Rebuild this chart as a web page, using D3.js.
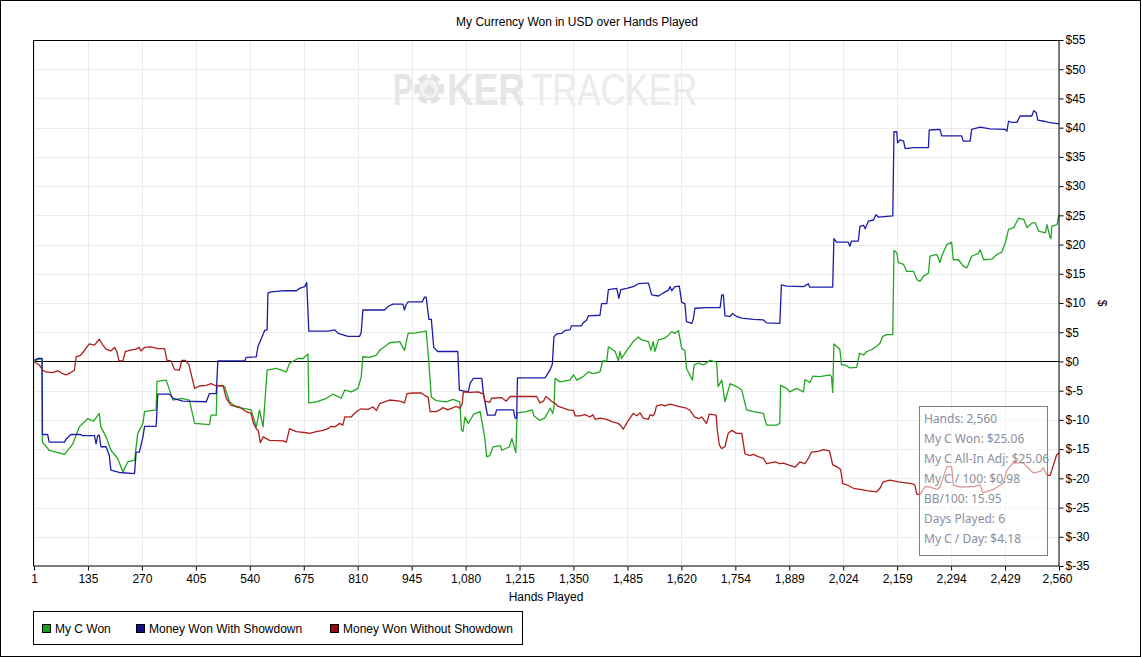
<!DOCTYPE html>
<html>
<head>
<meta charset="utf-8">
<script src="https://cdn.jsdelivr.net/npm/d3@7"></script>
<style>
  html, body { margin: 0; padding: 0; background: #fff; }
  svg { display: block; }
  text { font-family: "Liberation Sans", Arial, sans-serif; }
</style>
</head>
<body>
<script>
// ---------------- DATA ----------------
const chartTitle = "My Currency Won in USD over Hands Played";
const xAxisTitle = "Hands Played";
const yAxisTitle = "$";
const seriesNames = ["My C Won", "Money Won With Showdown", "Money Won Without Showdown"];
const xTickLabels = ["1","135","270","405","540","675","810","945","1,080","1,215","1,350","1,485","1,620","1,754","1,889","2,024","2,159","2,294","2,429","2,560"];
const yTickValues = [-35,-30,-25,-20,-15,-10,-5,0,5,10,15,20,25,30,35,40,45,50,55];
const infoLines = ["Hands: 2,560","My C Won: $25.06","My C All-In Adj: $25.06","My C / 100: $0.98","BB/100: 15.95","Days Played: 6","My C / Day: $4.18"];

// [hand, dollars]
const myCWon = [
[1,0],[10,0.3],[18,0.5],[21,0.4],[22,-13.8],[39,-15.2],[56,-15.5],[77,-15.9],[98,-14.1],[114,-11.2],[135,-9.8],[150,-10.2],[164,-8.9],[168,-11.2],[181,-12.9],[193,-15.2],[210,-16.6],[223,-18.9],[235,-17.2],[252,-16.9],[260,-12.3],[273,-10.6],[277,-8.6],[306,-8.3],[308,-3.4],[331,-3.2],[348,-6.6],[368,-6.3],[389,-6.6],[402,-10.6],[439,-10.8],[443,-9.2],[456,-9.2],[458,-4.1],[477,-4.3],[489,-6.9],[506,-7.8],[531,-8.1],[543,-8.3],[556,-11.2],[564,-8.3],[573,-11.2],[583,-1.5],[606,-1.2],[631,-1.8],[639,-0.3],[660,0.5],[673,0.5],[685,1.3],[687,-7.1],[706,-6.9],[731,-6.3],[747,-5.6],[768,-6.3],[777,-4.9],[793,-5.2],[810,-4.6],[818,-2.6],[822,0.8],[839,0.7],[856,1.1],[864,1.9],[876,2.5],[889,3.2],[914,3.4],[926,1.9],[935,4.8],[955,4.9],[980,5.2],[985,1.4],[993,-6.1],[1005,-6.7],[1030,-6.9],[1047,-6.5],[1064,-6.9],[1068,-11.7],[1072,-12.0],[1077,-9.5],[1085,-10.6],[1092,-9.8],[1099,-9.0],[1115,-8.6],[1123,-11.7],[1127,-13.4],[1131,-16.3],[1139,-16.1],[1147,-14.6],[1165,-14.4],[1169,-15.2],[1188,-14.6],[1194,-13.2],[1204,-15.6],[1207,-8.8],[1230,-8.6],[1245,-8.3],[1249,-9.3],[1260,-9.9],[1263,-10.1],[1276,-9.7],[1285,-8.6],[1290,-8.0],[1296,-8.9],[1299,-8.0],[1302,-2.9],[1314,-3.5],[1339,-3.2],[1348,-2.3],[1356,-3.2],[1372,-2.6],[1385,-1.8],[1397,-2.1],[1414,-1.8],[1421,0.1],[1431,0.1],[1435,2.5],[1452,1.7],[1460,0.1],[1464,1.7],[1468,0.5],[1481,1.9],[1497,3.4],[1510,4.2],[1518,3.7],[1535,3.4],[1541,1.9],[1547,3.4],[1551,1.7],[1560,3.7],[1576,4.0],[1585,4.5],[1593,5.1],[1601,4.8],[1610,5.3],[1618,2.2],[1626,1.9],[1630,-1.2],[1645,-3.2],[1649,-0.6],[1660,-0.3],[1672,-0.6],[1689,0.2],[1705,-0.1],[1709,-4.3],[1718,-3.2],[1726,-6.9],[1739,-3.8],[1755,-4.3],[1768,-4.9],[1780,-8.3],[1797,-8.6],[1822,-8.9],[1830,-10.9],[1855,-10.9],[1863,-10.6],[1865,-4.1],[1880,-4.6],[1888,-5.2],[1905,-4.6],[1922,-5.2],[1926,-3.1],[1938,-3.6],[1946,-2.5],[1963,-2.6],[1988,-2.3],[1992,-2.6],[1995,-5.3],[1998,3.0],[2005,2.6],[2013,2.0],[2017,-0.6],[2026,-0.6],[2038,-1.1],[2055,-1.0],[2062,1.4],[2072,1.1],[2080,1.7],[2092,2.0],[2105,2.6],[2113,3.1],[2120,4.3],[2130,4.6],[2145,4.6],[2148,19.0],[2155,18.6],[2159,16.9],[2172,16.6],[2180,15.4],[2197,15.4],[2205,14.0],[2213,13.7],[2222,14.6],[2234,15.1],[2238,18.0],[2255,18.3],[2263,16.9],[2267,18.0],[2280,20.0],[2292,20.4],[2296,17.4],[2309,17.4],[2321,16.3],[2330,16.0],[2342,18.0],[2359,18.5],[2363,19.1],[2372,17.4],[2392,17.5],[2405,18.3],[2417,18.7],[2426,20.3],[2434,22.6],[2447,22.9],[2459,24.5],[2472,24.3],[2480,22.9],[2493,23.7],[2501,23.7],[2509,22.3],[2526,22.0],[2530,23.4],[2537,21.4],[2540,21.0],[2542,23.1],[2555,23.4],[2560,25.1]
];

const wonWithShowdown = [
[1,0.2],[10,0.5],[21,0.5],[22,-12.5],[35,-12.5],[39,-13.8],[77,-13.8],[81,-13.3],[93,-12.5],[118,-12.5],[122,-12.7],[152,-12.7],[156,-14.1],[160,-12.7],[164,-12.6],[168,-14.6],[181,-14.6],[189,-16.1],[193,-18.6],[214,-19.0],[252,-19.2],[256,-15.5],[264,-15.5],[273,-12.9],[277,-11.1],[306,-11.1],[310,-5.6],[339,-5.6],[348,-6.3],[373,-6.8],[431,-6.9],[439,-5.5],[456,-5.5],[460,0.1],[527,0.1],[531,0.7],[556,0.8],[560,2.5],[577,5.3],[583,5.4],[585,11.7],[593,11.9],[627,12.1],[656,12.1],[664,12.5],[677,12.8],[682,13.5],[687,5.2],[735,5.2],[752,5.4],[760,4.8],[785,4.3],[814,4.3],[818,5.0],[822,8.8],[876,8.8],[885,9.4],[897,9.8],[922,9.8],[926,8.8],[930,9.7],[935,10.2],[970,10.2],[976,11.0],[980,11.0],[987,7.2],[993,7.2],[999,2.4],[1009,1.7],[1059,1.7],[1063,-4.9],[1085,-5.2],[1090,-3.7],[1098,-2.9],[1119,-2.9],[1123,-5.5],[1133,-9.2],[1152,-9.2],[1156,-8.3],[1198,-8.3],[1202,-9.7],[1206,-9.7],[1208,-2.8],[1277,-2.8],[1289,-1.5],[1295,-0.5],[1299,4.2],[1306,4.7],[1318,4.8],[1327,5.3],[1339,5.4],[1343,6.1],[1368,6.1],[1372,6.6],[1381,7.1],[1385,7.8],[1414,7.9],[1418,9.9],[1431,9.9],[1435,12.3],[1456,12.5],[1461,10.8],[1466,12.3],[1481,12.5],[1497,12.8],[1510,13.3],[1531,13.4],[1535,13.4],[1543,11.4],[1560,11.2],[1572,11.7],[1585,12.2],[1589,12.8],[1593,12.1],[1601,12.8],[1612,12.9],[1618,10.1],[1626,9.9],[1630,6.8],[1643,6.5],[1647,7.2],[1651,9.1],[1680,9.2],[1714,9.2],[1718,11.4],[1722,11.4],[1726,7.8],[1739,7.7],[1745,8.2],[1755,7.7],[1768,7.4],[1797,7.2],[1822,7.1],[1830,6.6],[1863,6.5],[1867,13.1],[1880,12.9],[1922,12.8],[1930,13.1],[1934,13.3],[1938,12.7],[1995,12.7],[1998,21.0],[2005,20.4],[2034,20.4],[2038,19.7],[2042,20.6],[2059,20.6],[2063,23.1],[2072,23.3],[2076,22.7],[2084,24.0],[2097,24.2],[2103,25.1],[2109,24.7],[2145,24.9],[2148,39.3],[2155,39.3],[2157,37.4],[2163,37.9],[2172,37.7],[2176,36.4],[2197,36.6],[2234,36.6],[2236,39.6],[2263,39.7],[2267,38.6],[2317,38.6],[2321,37.7],[2338,37.7],[2342,39.7],[2363,40.1],[2388,39.8],[2426,39.7],[2430,39.4],[2434,41.1],[2442,40.9],[2455,40.9],[2463,42.0],[2492,42.0],[2497,42.9],[2503,42.6],[2507,41.3],[2522,41.1],[2534,40.9],[2555,40.7],[2560,40.7]
];

const wonWithoutShowdown = [
[1,0],[14,-0.6],[23,-1.5],[31,-1.8],[48,-1.9],[60,-1.6],[73,-2.1],[81,-2.3],[93,-1.9],[102,-1.5],[106,0.8],[118,1.1],[127,1.9],[139,3.0],[152,2.8],[164,3.8],[173,2.8],[181,2.1],[193,1.8],[202,2.4],[208,1.7],[213,0.1],[223,0.1],[229,1.7],[239,1.9],[256,2.1],[264,2.4],[268,1.8],[277,2.4],[293,2.5],[310,2.2],[327,2.2],[333,0.2],[343,0.1],[352,-1.4],[364,-1.5],[370,0.2],[379,0.2],[388,-0.6],[402,-4.6],[414,-4.2],[431,-4.1],[443,-3.8],[456,-4.2],[473,-4.1],[481,-6.3],[493,-7.5],[514,-7.8],[531,-8.6],[543,-8.9],[549,-10.6],[556,-11.5],[561,-11.8],[566,-13.9],[573,-12.9],[589,-13.5],[623,-13.6],[631,-13.8],[639,-11.5],[648,-11.8],[656,-12.0],[681,-12.2],[689,-12.3],[706,-12.0],[722,-11.8],[735,-11.5],[743,-11.1],[752,-11.2],[764,-10.6],[772,-10.9],[777,-9.5],[793,-9.5],[801,-8.9],[810,-8.4],[818,-8.1],[835,-8.2],[847,-7.8],[856,-8.4],[864,-7.2],[876,-6.9],[889,-6.6],[914,-6.8],[926,-7.1],[932,-5.5],[947,-5.4],[968,-5.4],[976,-5.8],[985,-6.1],[990,-8.6],[1005,-8.6],[1014,-8.3],[1022,-7.9],[1034,-8.3],[1055,-7.7],[1064,-8.0],[1070,-7.3],[1073,-5.2],[1090,-5.3],[1110,-5.2],[1123,-5.6],[1127,-6.8],[1139,-7.0],[1143,-6.3],[1169,-6.2],[1180,-6.8],[1190,-6.0],[1210,-6.0],[1256,-6.0],[1264,-7.1],[1273,-6.8],[1279,-6.0],[1285,-6.3],[1293,-6.8],[1302,-7.2],[1310,-7.7],[1323,-8.0],[1335,-8.3],[1348,-8.4],[1352,-9.3],[1364,-9.3],[1377,-9.1],[1389,-9.5],[1396,-9.1],[1402,-9.9],[1414,-9.7],[1431,-9.9],[1443,-10.3],[1456,-10.5],[1464,-10.8],[1472,-11.6],[1481,-10.5],[1489,-9.7],[1497,-8.9],[1506,-9.3],[1514,-8.8],[1522,-9.7],[1535,-9.9],[1539,-9.1],[1547,-9.3],[1551,-8.8],[1555,-7.6],[1568,-7.4],[1576,-7.6],[1589,-7.3],[1605,-7.6],[1618,-7.8],[1630,-8.0],[1639,-8.4],[1650,-9.5],[1660,-9.8],[1668,-9.5],[1680,-10.6],[1687,-9.0],[1704,-9.2],[1707,-11.8],[1712,-14.3],[1718,-14.9],[1726,-14.6],[1734,-12.3],[1743,-11.8],[1755,-12.3],[1768,-12.3],[1776,-15.8],[1789,-16.1],[1797,-15.9],[1809,-16.3],[1822,-16.6],[1830,-17.5],[1851,-17.2],[1863,-17.5],[1872,-17.4],[1888,-17.8],[1901,-18.1],[1913,-17.2],[1926,-17.5],[1934,-16.6],[1942,-15.5],[1959,-15.4],[1972,-15.1],[1987,-15.3],[1995,-17.7],[2005,-18.0],[2015,-18.5],[2020,-20.9],[2030,-21.1],[2047,-21.7],[2063,-21.9],[2080,-22.1],[2105,-22.3],[2113,-21.7],[2121,-20.6],[2138,-20.3],[2159,-20.6],[2192,-20.9],[2200,-21.1],[2205,-22.7],[2213,-22.8],[2226,-21.4],[2238,-21.5],[2255,-21.9],[2263,-21.5],[2280,-18.0],[2292,-18.0],[2296,-21.1],[2313,-21.5],[2346,-21.4],[2363,-21.1],[2370,-22.5],[2396,-21.9],[2421,-20.8],[2430,-18.6],[2446,-17.3],[2471,-17.4],[2496,-19.1],[2513,-18.8],[2521,-18.2],[2530,-19.5],[2538,-19.5],[2554,-16.0],[2560,-15.6]
];

const seriesColors = ["#22a722", "#1c1caa", "#b01d1d"];
const legendColors = ["#18a018", "#10108f", "#9a0c0c"];

// ---------------- CHART ----------------
const W = 1142, H = 657;
const svg = d3.select("body").append("svg").attr("width", W).attr("height", H);

const x = d3.scaleLinear().domain([1, 2560]).range([34, 1059]);
const y = d3.scaleLinear().domain([-35, 55]).range([566, 40]);
const xTickValues = xTickLabels.map((_, i) => 1 + i * (2560 - 1) / (xTickLabels.length - 1));

// outer border
svg.append("rect").attr("x", 0.5).attr("y", 0.5).attr("width", W - 2).attr("height", H - 1)
  .attr("fill", "#fff").attr("stroke", "#000");

// title
svg.append("text").attr("x", 577).attr("y", 26).attr("text-anchor", "middle")
  .attr("font-size", 12).attr("fill", "#000").text(chartTitle);

// gridlines
const grid = svg.append("g");
grid.selectAll("line.vx").data(xTickValues).join("line")
  .attr("x1", d => Math.round(x(d)) + 0.5).attr("x2", d => Math.round(x(d)) + 0.5)
  .attr("y1", y(55)).attr("y2", y(-35)).attr("stroke", "#ebebeb");
grid.selectAll("line.hy").data(yTickValues).join("line")
  .attr("y1", d => Math.round(y(d)) + 0.5).attr("y2", d => Math.round(y(d)) + 0.5)
  .attr("x1", x(1)).attr("x2", x(2560)).attr("stroke", "#ebebeb");

// watermark
const wm = svg.append("g").attr("fill", "#e6e6e6");
wm.append("text").attr("x", 393).attr("y", 105).attr("font-size", 44).attr("font-weight", "bold")
  .attr("textLength", 20).attr("lengthAdjust", "spacingAndGlyphs").text("P");
wm.append("circle").attr("cx", 429).attr("cy", 89).attr("r", 15).attr("fill", "#e3e3e3");
[0, 60, 120, 180, 240, 300].forEach(a => {
  wm.append("rect").attr("x", 427).attr("y", 73).attr("width", 4).attr("height", 5)
    .attr("fill", "#fff").attr("transform", `rotate(${a},429,89)`);
});
wm.append("circle").attr("cx", 429).attr("cy", 89).attr("r", 9.5).attr("fill", "#f2f2f2");
wm.append("text").attr("x", 429).attr("y", 95.5).attr("text-anchor", "middle").attr("font-size", 17)
  .attr("fill", "#e0e0e0").style("font-family", "DejaVu Sans").text("\u2660");
wm.append("text").attr("x", 447).attr("y", 105).attr("font-size", 44).attr("font-weight", "bold")
  .attr("textLength", 78).attr("lengthAdjust", "spacingAndGlyphs").text("KER");
wm.append("text").attr("x", 531).attr("y", 105).attr("font-size", 44).attr("fill", "#ebebeb")
  .attr("textLength", 166).attr("lengthAdjust", "spacingAndGlyphs").text("TRACKER");

// zero line
svg.append("line").attr("x1", x(1)).attr("x2", x(2560))
  .attr("y1", Math.round(y(0)) + 0.5).attr("y2", Math.round(y(0)) + 0.5)
  .attr("stroke", "#000").attr("stroke-width", 1);

// series
const line = d3.line().x(d => x(d[0])).y(d => y(d[1]));
const allSeries = [myCWon, wonWithShowdown, wonWithoutShowdown];
const plotG = svg.append("g");
allSeries.forEach((s, i) => {
  plotG.append("path").datum(s).attr("d", line).attr("fill", "none")
    .attr("stroke", seriesColors[i]).attr("stroke-width", 1.3).attr("stroke-linejoin", "round");
});

// plot frame
svg.append("rect").attr("x", 33.5).attr("y", 40.5).attr("width", 1059 - 33.5).attr("height", 566 - 40.5)
  .attr("fill", "none").attr("stroke", "#000");

// axes
const xAxis = d3.axisBottom(x).tickValues(xTickValues).tickFormat((d, i) => xTickLabels[i])
  .tickSize(4).tickPadding(4);
const gx = svg.append("g").attr("transform", "translate(0,566.5)").call(xAxis);
gx.select(".domain").remove();
gx.selectAll("text").attr("font-size", 12).attr("fill", "#000").style("font-family", "Liberation Sans, Arial, sans-serif");
gx.selectAll("line").attr("stroke", "#000");
gx.selectAll(".tick text").filter((d, i) => i === xTickLabels.length - 1).attr("dx", "-2");

const yAxis = d3.axisRight(y).tickValues(yTickValues).tickFormat(d => "$" + d).tickSize(4).tickPadding(2);
const gy = svg.append("g").attr("transform", "translate(1059.5,0)").call(yAxis);
gy.select(".domain").remove();
gy.selectAll("text").attr("font-size", 12).attr("fill", "#000").style("font-family", "Liberation Sans, Arial, sans-serif");
gy.selectAll("line").attr("stroke", "#000");

// axis titles
svg.append("text").attr("x", 546).attr("y", 601).attr("text-anchor", "middle")
  .attr("font-size", 12).text(xAxisTitle);
svg.append("text").attr("transform", "translate(1098,303) rotate(90)").attr("text-anchor", "middle")
  .attr("font-size", 12).text(yAxisTitle);

// info box
const ib = svg.append("g");
ib.append("rect").attr("x", 919.5).attr("y", 406.5).attr("width", 128).attr("height", 149)
  .attr("fill", "#fff").attr("fill-opacity", 0.55).attr("stroke", "#808080");
ib.selectAll("text").data(infoLines).join("text")
  .attr("x", 924).attr("y", (d, i) => 422.5 + i * 20)
  .attr("font-size", 12).attr("fill", "#8a8e9e").style("font-family", "Noto Sans, Open Sans, sans-serif")
  .text(d => d);

// legend
const lg = svg.append("g");
lg.append("rect").attr("x", 33.5).attr("y", 611.5).attr("width", 489).attr("height", 33)
  .attr("fill", "#fff").attr("stroke", "#000");
const legendX = [42, 136, 330];
seriesNames.forEach((n, i) => {
  lg.append("rect").attr("x", legendX[i] + 0.5).attr("y", 624.5).attr("width", 8).attr("height", 8)
    .attr("fill", legendColors[i]).attr("stroke", "#000");
  lg.append("text").attr("x", legendX[i] + 13).attr("y", 632.5).attr("font-size", 12).text(n);
});
</script>
</body>
</html>
